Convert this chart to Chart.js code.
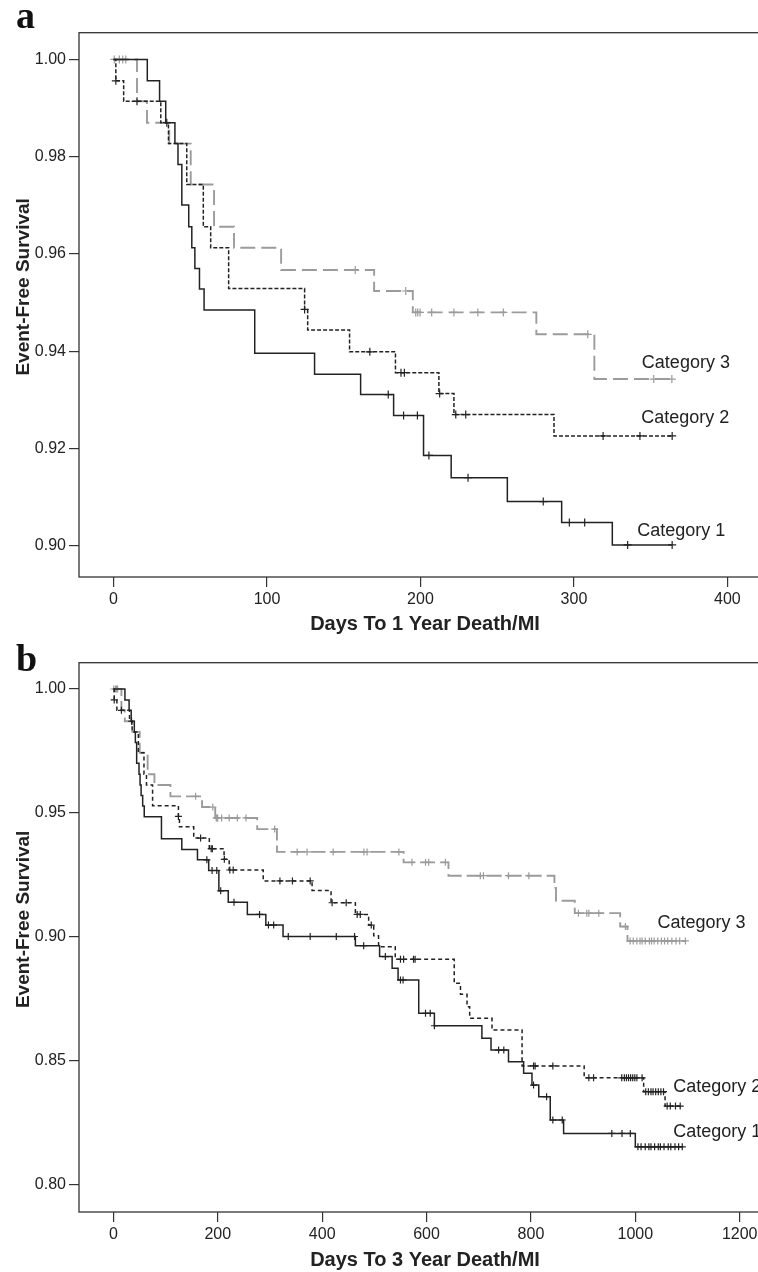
<!DOCTYPE html>
<html>
<head>
<meta charset="utf-8">
<script src="https://cdn.jsdelivr.net/npm/chart.js@4.4.1/dist/chart.umd.min.js"></script>
<style>
  html, body { margin: 0; padding: 0; background: #fff; }
  #page { position: relative; width: 758px; height: 1272px; overflow: hidden; background: #fff; }
  canvas { position: absolute; left: 0; }
  #chartA { top: 0; }
  #chartB { top: 636px; }
  .panel-tag { position: absolute; font: bold 38px "Liberation Serif", "DejaVu Serif", serif; line-height: 1; color: #111; }
</style>
</head>
<body>
<div id="page">
  <canvas id="chartA" width="790" height="636"></canvas>
  <canvas id="chartB" width="790" height="636"></canvas>
  <div class="panel-tag" style="left:16px; top:-4px;">a</div>
  <div class="panel-tag" style="left:16px; top:639px;">b</div>
</div>
<script>
/* Kaplan-Meier curves, event-free survival by category.
   Each curve = event days + survival after that event, plus censored days. */

// ---------- panel a : 1 year ----------
const aTicksX = [0, 100, 200, 300, 400];
const aTicksY = [0.90, 0.92, 0.94, 0.96, 0.98, 1.00];

const aCat1Days = [22, 30, 34, 40, 42, 44.5, 49, 51, 53, 56, 59, 92, 131, 161, 182.5, 202, 220, 256.6, 292, 325];
const aCat1Surv = [0.9956, 0.9914, 0.9870, 0.9827, 0.9784, 0.9701, 0.9656, 0.9613, 0.9570, 0.9528, 0.9485,
                   0.9396, 0.9353, 0.9311, 0.9268, 0.9186, 0.9140, 0.9091, 0.9048, 0.9002];
const aCat1Censored = [179, 189, 198, 205.5, 231, 280, 297, 307, 335, 364];

const aCat2Days = [1.5, 6.6, 30.8, 35.8, 47.7, 58.5, 63.3, 75, 124.5, 126.5, 153.8, 183.7, 212, 221.8, 287];
const aCat2Surv = [0.9956, 0.9914, 0.9870, 0.9827, 0.9743, 0.9656, 0.9613, 0.9529, 0.9486, 0.9444,
                   0.9399, 0.9356, 0.9313, 0.9270, 0.9226];
const aCat2Censored = [1.5, 15.3, 34.7, 124.5, 167, 187.3, 189.5, 212.5, 223, 229.5, 319, 343, 364];

const aCat3Days = [15.3, 21.8, 36.3, 50.3, 65.5, 78.5, 109.2, 169.8, 195, 275.5, 313.3];
const aCat3Surv = [0.9914, 0.9870, 0.9827, 0.9743, 0.9656, 0.9613, 0.9567, 0.9524, 0.9480, 0.9435, 0.9343];
const aCat3Censored = [0.5, 3.8, 6, 8, 157.5, 190.4, 196.9, 198.2, 199.7, 207.3, 221.8, 237.4, 254, 309, 352, 363.8];

// ---------- panel b : 3 years ----------
const bTicksX = [0, 200, 400, 600, 800, 1000, 1200];
const bTicksY = [0.80, 0.85, 0.90, 0.95, 1.00];

const bCat1Days = [22, 30, 34, 40, 42, 44.5, 49, 51, 53, 56, 59, 92, 131, 161, 182.5, 202, 220, 256.6, 292, 325,
                   463.6, 510, 534, 545.4, 585, 615, 706, 723.5, 757, 786, 802, 815, 837, 862.6, 1000];
const bCat1Surv = [0.9956, 0.9914, 0.9870, 0.9827, 0.9784, 0.9701, 0.9656, 0.9613, 0.9570, 0.9528, 0.9485,
                   0.9396, 0.9353, 0.9311, 0.9268, 0.9186, 0.9140, 0.9091, 0.9048, 0.9002,
                   0.8965, 0.8921, 0.8874, 0.8827, 0.8692, 0.8642, 0.8592, 0.8544, 0.8497, 0.8450,
                   0.8403, 0.8356, 0.8262, 0.8208, 0.8154];
const bCat1Censored = [179, 189, 198, 205.5, 231, 280, 297, 307, 335, 377, 427, 462, 479.5, 521, 550, 555,
                       598, 607, 615, 738, 748, 805, 830, 842, 860, 955, 974.5, 990.4,
                       1005, 1011, 1019, 1026, 1030, 1037, 1044, 1048, 1055, 1063, 1068, 1076, 1083, 1090];

const bCat2Days = [1.5, 6.6, 30.8, 35.8, 47.7, 58.5, 63.3, 75, 124.5, 126.5, 153.8, 183.7, 212, 221.8, 287,
                   380.6, 417, 463.6, 489, 498.7, 508, 540, 653, 665, 677.5, 682.6, 725.4, 783, 902, 1016, 1057];
const bCat2Surv = [0.9956, 0.9914, 0.9870, 0.9827, 0.9743, 0.9656, 0.9613, 0.9529, 0.9486, 0.9444,
                   0.9399, 0.9356, 0.9313, 0.9270, 0.9226,
                   0.9187, 0.9138, 0.9091, 0.9048, 0.9005, 0.8961, 0.8910, 0.8813, 0.8769, 0.8719,
                   0.8672, 0.8625, 0.8480, 0.8432, 0.8376, 0.8318];
const bCat2Censored = [1.5, 15.3, 34.7, 124.5, 167, 187.3, 189.5, 212.5, 223, 229.5, 319, 343,
                       377, 419, 446, 467, 473, 494, 550, 556, 575, 578, 805, 808, 842, 911, 920,
                       974, 979, 983, 987, 991, 995, 999, 1003, 1013, 1020, 1025, 1030, 1034, 1039,
                       1044, 1049, 1054, 1061, 1067, 1077, 1086];

const bCat3Days = [15.3, 21.8, 36.3, 50.3, 65.5, 78.5, 109.2, 169.8, 195, 275.5, 313.3,
                   556, 642, 845, 848, 884, 971, 985];
const bCat3Surv = [0.9914, 0.9870, 0.9827, 0.9743, 0.9656, 0.9613, 0.9567, 0.9524, 0.9480, 0.9435, 0.9343,
                   0.9301, 0.9247, 0.9198, 0.9146, 0.9096, 0.9042, 0.8984];
const bCat3Censored = [0.5, 3.8, 6, 8, 157.5, 190.4, 196.9, 198.2, 199.7, 207.3, 221.8, 237.4, 254, 309, 352,
                       371, 421, 480, 486, 547, 572, 598, 604, 636, 703, 709, 757, 796, 891, 907, 911, 930,
                       981, 990, 996, 1003, 1009, 1013, 1019, 1027, 1031, 1036, 1043, 1050, 1056, 1062,
                       1070, 1078, 1085, 1096];

// ---------- helpers ----------
const FONT = '"Liberation Sans", Arial, Helvetica, sans-serif';
const INK = '#222';
const GREY = '#9b9b9b';

// survival value of the step curve at day t
function stepValue(days, surv, t) {
  let s = 1;
  for (let i = 0; i < days.length; i++) {
    if (days[i] <= t) s = surv[i];
  }
  return s;
}

function curvePoints(days, surv, censored) {
  const pts = [{ x: 0, y: 1 }];
  days.forEach((d, i) => pts.push({ x: d, y: surv[i] }));
  const end = Math.max(days[days.length - 1], censored[censored.length - 1]);
  pts.push({ x: end, y: surv[surv.length - 1] });
  return pts;
}

function censorPoints(days, surv, censored) {
  return censored.map((t) => ({ x: t, y: stepValue(days, surv, t) }));
}

function kmDatasets(days, surv, censored, style) {
  return [
    {
      type: 'line',
      data: curvePoints(days, surv, censored),
      stepped: true,
      borderColor: style.color,
      borderWidth: style.width,
      borderDash: style.dash,
      pointRadius: 0,
      fill: false,
    },
    {
      type: 'scatter',
      data: censorPoints(days, surv, censored),
      pointStyle: 'cross',
      pointRadius: style.mark,
      borderColor: style.color,
      borderWidth: 1.2,
    },
  ];
}

// box around the plot area (SPSS style) + the rotated y title
const framePlugin = {
  id: 'frame',
  afterDraw(chart, args, opts) {
    const { ctx, chartArea: a } = chart;
    ctx.save();
    ctx.strokeStyle = '#333';
    ctx.lineWidth = 1.3;
    ctx.strokeRect(a.left, a.top, a.right - a.left, a.bottom - a.top);

    // y title sits a little above the middle of the frame, like the original
    ctx.translate(24, (a.top + a.bottom) / 2 - opts.titleLift);
    ctx.rotate(-Math.PI / 2);
    ctx.font = 'bold 19px ' + FONT;
    ctx.fillStyle = INK;
    ctx.textAlign = 'center';
    ctx.textBaseline = 'middle';
    ctx.fillText('Event-Free Survival', 0, 0);
    ctx.restore();
  },
};

// "Category n" text next to the end of each curve
const curveLabelPlugin = {
  id: 'curveLabels',
  afterDatasetsDraw(chart, args, opts) {
    const ctx = chart.ctx;
    ctx.save();
    ctx.font = '18px ' + FONT;
    ctx.fillStyle = INK;
    ctx.textBaseline = 'middle';
    ctx.textAlign = 'left';
    opts.items.forEach((item) => {
      const pts = chart.getDatasetMeta(item.dataset).data;
      const end = pts[pts.length - 1];
      ctx.fillText(item.text, end.x + item.dx, end.y + item.dy);
    });
    ctx.restore();
  },
};

function makeChart(canvasId, cfg) {
  return new Chart(document.getElementById(canvasId), {
    type: 'scatter',
    data: { datasets: cfg.datasets },
    plugins: [framePlugin, curveLabelPlugin],
    options: {
      responsive: false,
      animation: false,
      events: [],
      layout: { padding: { top: cfg.padTop, right: 19, left: 0, bottom: 0 } },
      plugins: {
        legend: { display: false },
        tooltip: { enabled: false },
        frame: { titleLift: 18 },
        curveLabels: { items: cfg.labels },
      },
      scales: {
        x: {
          type: 'linear',
          min: cfg.xMin,
          max: cfg.xMax,
          afterBuildTicks: (s) => { s.ticks = cfg.xTicks.map((v) => ({ value: v })); },
          afterFit: (s) => { s.height = cfg.xAxisHeight; },
          ticks: { font: { family: FONT, size: 16 }, color: INK, padding: 3, maxRotation: 0, autoSkip: false,
                   callback: (v) => String(v) },
          grid: { drawOnChartArea: false, drawTicks: true, tickLength: 10, color: '#333', lineWidth: 1.2 },
          border: { display: false },
          title: { display: true, text: cfg.xTitle, color: INK,
                   font: { family: FONT, size: 20, weight: 'bold' }, padding: { top: 0, bottom: 0 } },
        },
        y: {
          type: 'linear',
          min: cfg.yMin,
          max: cfg.yMax,
          afterBuildTicks: (s) => { s.ticks = cfg.yTicks.map((v) => ({ value: v })); },
          afterFit: (s) => { s.width = 79; },
          ticks: { font: { family: FONT, size: 16 }, color: INK, padding: 3, autoSkip: false,
                   callback: (v) => Number(v).toFixed(2) },
          grid: { drawOnChartArea: false, drawTicks: true, tickLength: 10, color: '#333', lineWidth: 1.2 },
          border: { display: false },
          title: { display: false },
        },
      },
    },
  });
}

// line styles: solid black, short-dash black, long-dash grey
const aStyle1 = { color: INK, width: 1.5, dash: [], mark: 4 };
const aStyle2 = { color: INK, width: 1.5, dash: [4, 2], mark: 4 };
const aStyle3 = { color: GREY, width: 1.9, dash: [15, 6], mark: 4 };
const bStyle1 = { color: INK, width: 1.5, dash: [], mark: 3.5 };
const bStyle2 = { color: INK, width: 1.5, dash: [4, 3], mark: 3.5 };
const bStyle3 = { color: GREY, width: 1.9, dash: [15, 5], mark: 3.5 };

makeChart('chartA', {
  datasets: [
    ...kmDatasets(aCat1Days, aCat1Surv, aCat1Censored, aStyle1),
    ...kmDatasets(aCat2Days, aCat2Surv, aCat2Censored, aStyle2),
    ...kmDatasets(aCat3Days, aCat3Surv, aCat3Censored, aStyle3),
  ],
  labels: [
    { dataset: 0, text: 'Category 1', dx: -35, dy: -14 },
    { dataset: 2, text: 'Category 2', dx: -31, dy: -18 },
    { dataset: 4, text: 'Category 3', dx: -30, dy: -16 },
  ],
  xTicks: aTicksX, yTicks: aTicksY,
  xMin: -22.5, xMax: 428.4, yMin: 0.8936, yMax: 1.0055,
  padTop: 32.7, xAxisHeight: 59,
  xTitle: 'Days To 1 Year Death/MI',
});

makeChart('chartB', {
  datasets: [
    ...kmDatasets(bCat1Days, bCat1Surv, bCat1Censored, bStyle1),
    ...kmDatasets(bCat2Days, bCat2Surv, bCat2Censored, bStyle2),
    ...kmDatasets(bCat3Days, bCat3Surv, bCat3Censored, bStyle3),
  ],
  labels: [
    { dataset: 0, text: 'Category 1', dx: -9, dy: -15 },
    { dataset: 2, text: 'Category 2', dx: -7, dy: -19 },
    { dataset: 4, text: 'Category 3', dx: -28, dy: -18 },
  ],
  xTicks: bTicksX, yTicks: bTicksY,
  xMin: -66, xMax: 1260, yMin: 0.7891, yMax: 1.0106,
  padTop: 26.7, xAxisHeight: 60,
  xTitle: 'Days To 3 Year Death/MI',
});
</script>
</body>
</html>
